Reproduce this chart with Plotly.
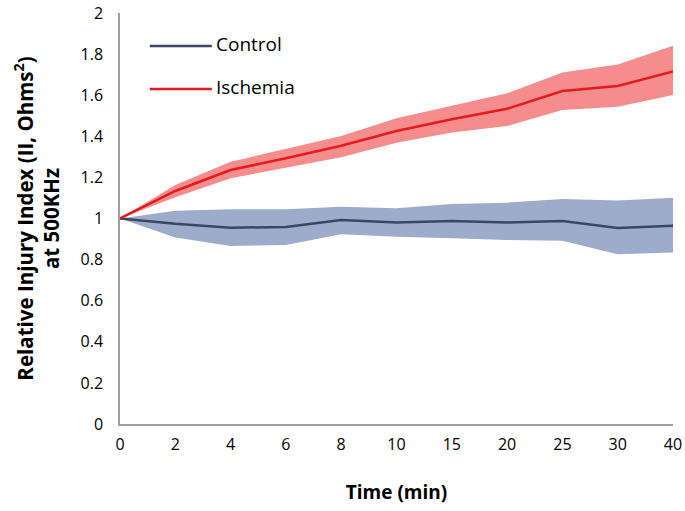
import plotly.graph_objects as go

times = ["0", "2", "4", "6", "8", "10", "15", "20", "25", "30", "40"]

control_mean = [1.0, 0.974, 0.955, 0.959, 0.993, 0.981, 0.988, 0.981, 0.988, 0.954, 0.965]
control_upper = [1.0, 1.038, 1.045, 1.045, 1.057, 1.050, 1.071, 1.077, 1.095, 1.087, 1.101]
control_lower = [1.0, 0.907, 0.866, 0.871, 0.923, 0.911, 0.904, 0.895, 0.892, 0.826, 0.835]

isch_mean = [1.0, 1.134, 1.236, 1.293, 1.354, 1.426, 1.483, 1.534, 1.620, 1.645, 1.715]
isch_upper = [1.0, 1.163, 1.276, 1.337, 1.401, 1.488, 1.547, 1.609, 1.711, 1.750, 1.841]
isch_lower = [1.0, 1.103, 1.196, 1.248, 1.298, 1.369, 1.418, 1.450, 1.528, 1.544, 1.601]

y_ticks = [0, 0.2, 0.4, 0.6, 0.8, 1, 1.2, 1.4, 1.6, 1.8, 2]
y_tick_labels = ["0", "0.2", "0.4", "0.6", "0.8", "1", "1.2", "1.4", "1.6", "1.8", "2"]

series_names = ["Control", "Ischemia"]
line_colors = ["#3a4761", "#e8191c"]
band_colors = ["#9eaccb", "#f68d8d"]

FONT = "Open Sans, Lato, sans-serif"

fig = go.Figure()
bands = [(control_lower, control_upper), (isch_lower, isch_upper)]
means = [control_mean, isch_mean]
for i in range(2):
    lo, hi = bands[i]
    fig.add_trace(go.Scatter(x=times, y=lo, mode="lines", line=dict(width=0),
                             showlegend=False, hoverinfo="skip"))
    fig.add_trace(go.Scatter(x=times, y=hi, mode="lines", line=dict(width=0),
                             fill="tonexty", fillcolor=band_colors[i],
                             showlegend=False, hoverinfo="skip"))
for i in range(2):
    fig.add_trace(go.Scatter(x=times, y=means[i], mode="lines", name=series_names[i],
                             line=dict(color=line_colors[i], width=2.5), showlegend=False))

# custom legend (paper coordinates)
shapes = []
annotations = []
leg_y = [0.92, 0.815]
for i in range(2):
    shapes.append(dict(type="line", xref="paper", yref="paper",
                       x0=0.054, x1=0.166, y0=leg_y[i], y1=leg_y[i],
                       line=dict(color=line_colors[i], width=2.5)))
    annotations.append(dict(text=series_names[i], xref="paper", yref="paper",
                            x=0.170, y=leg_y[i] + 0.005, xanchor="left", yanchor="middle",
                            showarrow=False, font=dict(size=19, color="#000", family=FONT)))

fig.update_layout(
    width=685, height=511,
    margin=dict(l=120, r=12, t=13, b=87),
    plot_bgcolor="white", paper_bgcolor="white",
    font=dict(family=FONT, color="#000"),
    shapes=shapes, annotations=annotations,
    showlegend=False,
    xaxis=dict(type="category", range=[0, 10], showgrid=False, zeroline=False,
               automargin=False,
               showline=True, linecolor="#a0a0a0", linewidth=1.5,
               ticks="", ticklabelstandoff=5, tickfont=dict(size=16, family=FONT, color="#000"),
               title=dict(text="<b>Time (min)</b>", font=dict(size=19, family=FONT, color="#000"),
                          standoff=32)),
    yaxis=dict(range=[0, 2], tickvals=y_ticks, ticktext=y_tick_labels, showgrid=False,
               automargin=False,
               zeroline=False, showline=True, linecolor="#a0a0a0", linewidth=1.5,
               ticks="", ticklabelstandoff=12, tickfont=dict(size=16, family=FONT, color="#000"),
               title=dict(text="<b>Relative Injury Index (II, Ohms<sup>2</sup>)<br>at 500KHz</b>",
                          font=dict(size=20.5, family=FONT, color="#000"), standoff=15)),
)

fig.write_html("out.html", config={"displayModeBar": False},
               post_script="document.body.style.margin='0';document.body.style.overflow='hidden';")
